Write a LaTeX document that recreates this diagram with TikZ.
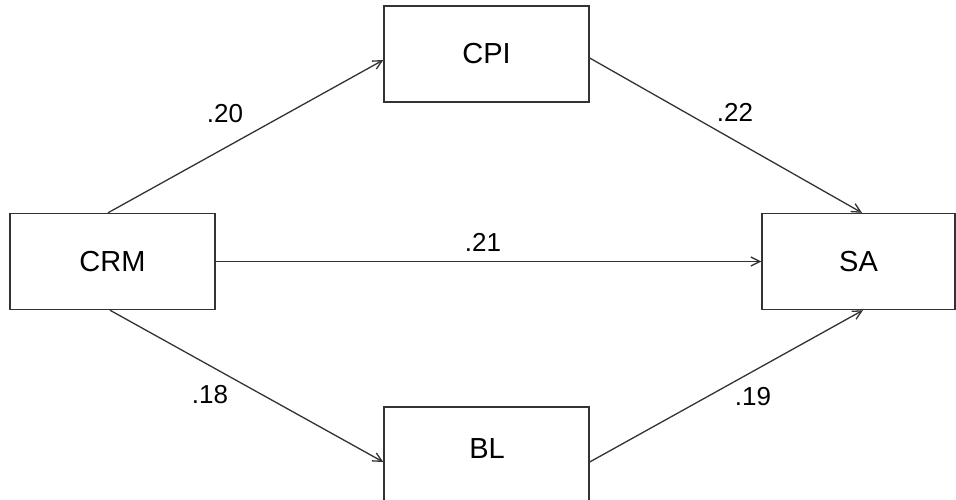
\documentclass[tikz,border=0pt]{standalone}
\usepackage{fontspec}
\setmainfont{Liberation Sans}
\usetikzlibrary{arrows.meta,calc}
\begin{document}
\begin{tikzpicture}[x=1pt,y=-1pt,
  varbox/.style={draw=black!80,line width=1.4pt,rectangle,minimum width=205pt,minimum height=96pt,inner sep=0pt,font=\fontsize{29}{32}\selectfont},
  path/.style={draw=black!80,line width=1.3pt,-{Straight Barb[length=9pt,width=9pt,line width=1.3pt]}},
  coef/.style={font=\fontsize{26}{30}\selectfont,inner sep=0pt}]
\useasboundingbox (0,0) rectangle (956,499);
\fill[white] (0,0) rectangle (956,499);
% variables
\node[varbox] (cpi) at (486.5,54) {CPI};
\node[varbox] (crm) at (112.5,261.5) {CRM};
\node[varbox,minimum width=193pt] (sa) at (858.5,261.5) {SA};
\node[varbox] (bl) at (486.5,455) {};
\node at (487,449) {\fontsize{29}{32}\selectfont BL};
% paths
\draw[path] ($(crm.north)+(-4.5,0)$) -- ($(cpi.west)+(0,6)$);
\draw[path] ($(cpi.east)+(0,4)$) -- ($(sa.north)+(3.5,0)$);
\draw[path] (crm.east) -- (sa.west);
\draw[path] ($(crm.south)+(-2.5,0)$) -- ($(bl.west)+(0,7)$);
\draw[path] ($(bl.east)+(0,7)$) -- ($(sa.south)+(4.5,0)$);
% coefficients
\node[coef] (c1) at (225,114) {.20};
\node[coef] (c2) at (735,112) {.22};
\node[coef] (c3) at (483,242) {.21};
\node[coef] (c4) at (210,395) {.18};
\node[coef] (c5) at (753,397) {.19};
\end{tikzpicture}
\end{document}
